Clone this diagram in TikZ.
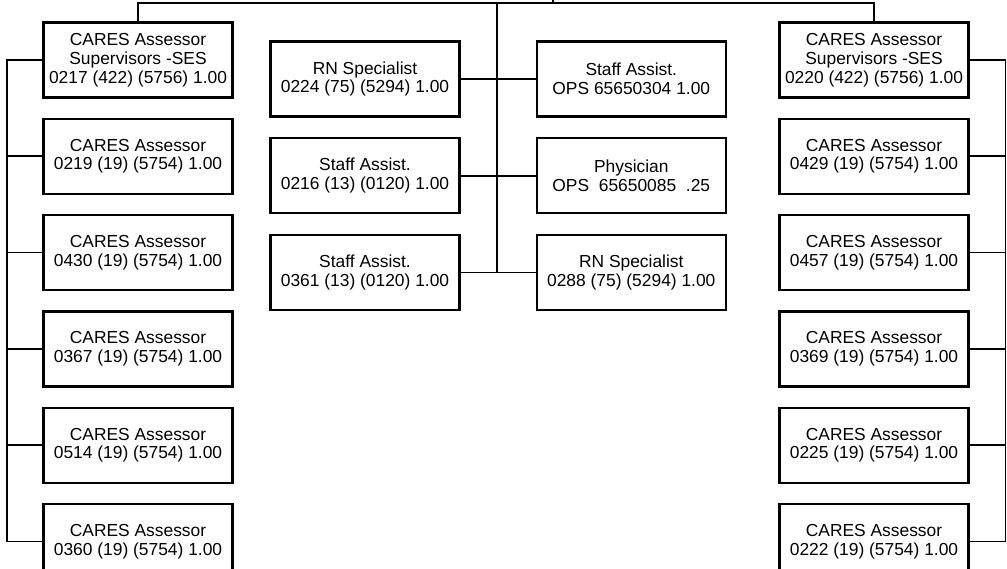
\documentclass[tikz,border=0pt]{standalone}
\usepackage{fontspec}
\setmainfont{Liberation Sans}
\usetikzlibrary{positioning}

\begin{document}
\begin{tikzpicture}[
  x=1pt, y=1pt,
  font=\fontsize{17.4}{18.8}\selectfont,
  node distance=19pt and 75pt,
  box/.style={
    draw, line width=2.3pt, minimum width=189pt, minimum height=75pt,
    inner sep=2pt, align=center
  },
  bus/.style={line width=1.8pt}
]
  \useasboundingbox (0,0) rectangle (1007,-569);
  \clip (0,0) rectangle (1007,-569);

  % left column
  \node[box] (supL) at (138,-60) {CARES Assessor\\Supervisors -SES\\0217 (422) (5756) 1.00};
  \node[box, below=of supL]  (a0219) {CARES Assessor\\0219 (19) (5754) 1.00};
  \node[box, below=of a0219] (a0430) {CARES Assessor\\0430 (19) (5754) 1.00};
  \node[box, below=of a0430] (a0367) {CARES Assessor\\0367 (19) (5754) 1.00};
  \node[box, below=of a0367] (a0514) {CARES Assessor\\0514 (19) (5754) 1.00};
  \node[box, below=of a0514] (a0360) {CARES Assessor\\0360 (19) (5754) 1.00};

  % middle
  \node[box] (rn0224) at (365,-79) {RN Specialist\\0224 (75) (5294) 1.00};
  \node[box, below=19.5pt of rn0224] (sa0216) {Staff Assist.\\0216 (13) (0120) 1.00};
  \node[box, below=19.5pt of sa0216] (sa0361) {Staff Assist.\\0361 (13) (0120) 1.00};
  \node[box, right=of rn0224] (saOPS) {Staff Assist.\\OPS 65650304 1.00};
  \node[box, right=of sa0216] (phys)  {Physician\\OPS\ \ 65650085\ \ .25};
  \node[box, right=of sa0361] (rn0288) {RN Specialist\\0288 (75) (5294) 1.00};

  % right column
  \node[box] (supR) at (874,-60) {CARES Assessor\\Supervisors -SES\\0220 (422) (5756) 1.00};
  \node[box, below=of supR]  (a0429) {CARES Assessor\\0429 (19) (5754) 1.00};
  \node[box, below=of a0429] (a0457) {CARES Assessor\\0457 (19) (5754) 1.00};
  \node[box, below=of a0457] (a0369) {CARES Assessor\\0369 (19) (5754) 1.00};
  \node[box, below=of a0369] (a0225) {CARES Assessor\\0225 (19) (5754) 1.00};
  \node[box, below=of a0225] (a0222) {CARES Assessor\\0222 (19) (5754) 1.00};

  \coordinate (top)  at (497,-3);
  \coordinate (busL) at (7,0);
  \coordinate (busR) at (1005.5,0);

  % cut-off box above
  \draw[line width=2.3pt] (490,-3) -- (553,-3) -- (553,5);

  \draw[bus] (supL.north) |- (top) -| (supR.north);
  \draw[bus] (top) -- (top |- sa0361.east);
  \draw[bus] (rn0224.east) -- (saOPS.west);
  \draw[bus] (sa0216.east) -- (phys.west);
  \draw[bus] (sa0361.east) -- (rn0288.west);

  \draw[bus] (supL.west) -- (supL.west -| busL) -- (a0360.west -| busL) -- (a0360.west);
  \draw[bus] (a0219.west) -- (a0219.west -| busL);
  \draw[bus] (a0430.west) -- (a0430.west -| busL);
  \draw[bus] (a0367.west) -- (a0367.west -| busL);
  \draw[bus] (a0514.west) -- (a0514.west -| busL);

  \draw[bus] (supR.east) -- (supR.east -| busR) -- (a0222.east -| busR) -- (a0222.east);
  \draw[bus] (a0429.east) -- (a0429.east -| busR);
  \draw[bus] (a0457.east) -- (a0457.east -| busR);
  \draw[bus] (a0369.east) -- (a0369.east -| busR);
  \draw[bus] (a0225.east) -- (a0225.east -| busR);
\end{tikzpicture}
\end{document}
